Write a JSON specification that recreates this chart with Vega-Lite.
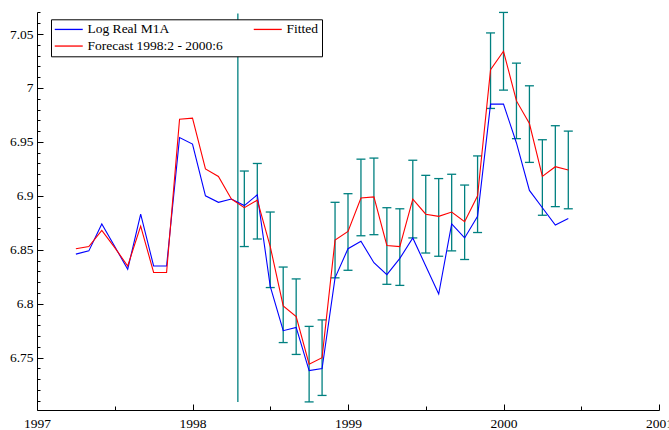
{
  "$schema": "https://vega.github.io/schema/vega-lite/v6.json",
  "autosize": {"type": "none"},
  "padding": {"left": 37, "top": 12, "right": 10, "bottom": 20},
  "width": 622,
  "height": 398,
  "background": "white",
  "config": {
    "view": {"stroke": null},
    "font": "Liberation Serif",
    "axis": {
      "grid": false,
      "domainColor": "black",
      "domainWidth": 1,
      "tickColor": "black",
      "tickWidth": 1,
      "labelColor": "black",
      "labelFont": "Liberation Serif",
      "labelFontSize": 13.5,
      "labelOverlap": false,
      "title": null
    },
    "legend": {
      "labelFont": "Liberation Serif",
      "labelFontSize": 13.5,
      "labelColor": "black"
    }
  },
  "resolve": {"axis": {"x": "independent", "y": "independent"}},
  "datasets": {
    "lines": [
      {"t": 1997.25, "series": "Log Real M1A", "v": 6.846},
      {"t": 1997.3333, "series": "Log Real M1A", "v": 6.849},
      {"t": 1997.4167, "series": "Log Real M1A", "v": 6.874},
      {"t": 1997.5, "series": "Log Real M1A", "v": 6.853},
      {"t": 1997.5833, "series": "Log Real M1A", "v": 6.832},
      {"t": 1997.6667, "series": "Log Real M1A", "v": 6.883},
      {"t": 1997.75, "series": "Log Real M1A", "v": 6.835},
      {"t": 1997.8333, "series": "Log Real M1A", "v": 6.835},
      {"t": 1997.9167, "series": "Log Real M1A", "v": 6.954},
      {"t": 1998.0, "series": "Log Real M1A", "v": 6.948},
      {"t": 1998.0833, "series": "Log Real M1A", "v": 6.900},
      {"t": 1998.1667, "series": "Log Real M1A", "v": 6.894},
      {"t": 1998.25, "series": "Log Real M1A", "v": 6.897},
      {"t": 1998.3333, "series": "Log Real M1A", "v": 6.891},
      {"t": 1998.4167, "series": "Log Real M1A", "v": 6.901},
      {"t": 1998.5, "series": "Log Real M1A", "v": 6.816},
      {"t": 1998.5833, "series": "Log Real M1A", "v": 6.775},
      {"t": 1998.6667, "series": "Log Real M1A", "v": 6.778},
      {"t": 1998.75, "series": "Log Real M1A", "v": 6.738},
      {"t": 1998.8333, "series": "Log Real M1A", "v": 6.740},
      {"t": 1998.9167, "series": "Log Real M1A", "v": 6.824},
      {"t": 1999.0, "series": "Log Real M1A", "v": 6.851},
      {"t": 1999.0833, "series": "Log Real M1A", "v": 6.858},
      {"t": 1999.1667, "series": "Log Real M1A", "v": 6.838},
      {"t": 1999.25, "series": "Log Real M1A", "v": 6.827},
      {"t": 1999.3333, "series": "Log Real M1A", "v": 6.842},
      {"t": 1999.4167, "series": "Log Real M1A", "v": 6.861},
      {"t": 1999.5, "series": "Log Real M1A", "v": 6.835},
      {"t": 1999.5833, "series": "Log Real M1A", "v": 6.809},
      {"t": 1999.6667, "series": "Log Real M1A", "v": 6.874},
      {"t": 1999.75, "series": "Log Real M1A", "v": 6.861},
      {"t": 1999.8333, "series": "Log Real M1A", "v": 6.881},
      {"t": 1999.9167, "series": "Log Real M1A", "v": 6.985},
      {"t": 2000.0, "series": "Log Real M1A", "v": 6.985},
      {"t": 2000.0833, "series": "Log Real M1A", "v": 6.949},
      {"t": 2000.1667, "series": "Log Real M1A", "v": 6.905},
      {"t": 2000.25, "series": "Log Real M1A", "v": 6.889},
      {"t": 2000.3333, "series": "Log Real M1A", "v": 6.873},
      {"t": 2000.4167, "series": "Log Real M1A", "v": 6.879},
      {"t": 1997.25, "series": "Fitted", "v": 6.851},
      {"t": 1997.3333, "series": "Fitted", "v": 6.853},
      {"t": 1997.4167, "series": "Fitted", "v": 6.868},
      {"t": 1997.5, "series": "Fitted", "v": 6.852},
      {"t": 1997.5833, "series": "Fitted", "v": 6.835},
      {"t": 1997.6667, "series": "Fitted", "v": 6.872},
      {"t": 1997.75, "series": "Fitted", "v": 6.829},
      {"t": 1997.8333, "series": "Fitted", "v": 6.829},
      {"t": 1997.9167, "series": "Fitted", "v": 6.971},
      {"t": 1998.0, "series": "Fitted", "v": 6.972},
      {"t": 1998.0833, "series": "Fitted", "v": 6.925},
      {"t": 1998.1667, "series": "Fitted", "v": 6.918},
      {"t": 1998.25, "series": "Fitted", "v": 6.897},
      {"t": 1998.25, "series": "Forecast 1998:2 - 2000:6", "v": 6.897},
      {"t": 1998.3333, "series": "Forecast 1998:2 - 2000:6", "v": 6.889},
      {"t": 1998.4167, "series": "Forecast 1998:2 - 2000:6", "v": 6.896},
      {"t": 1998.5, "series": "Forecast 1998:2 - 2000:6", "v": 6.853},
      {"t": 1998.5833, "series": "Forecast 1998:2 - 2000:6", "v": 6.798},
      {"t": 1998.6667, "series": "Forecast 1998:2 - 2000:6", "v": 6.788},
      {"t": 1998.75, "series": "Forecast 1998:2 - 2000:6", "v": 6.744},
      {"t": 1998.8333, "series": "Forecast 1998:2 - 2000:6", "v": 6.750},
      {"t": 1998.9167, "series": "Forecast 1998:2 - 2000:6", "v": 6.859},
      {"t": 1999.0, "series": "Forecast 1998:2 - 2000:6", "v": 6.867},
      {"t": 1999.0833, "series": "Forecast 1998:2 - 2000:6", "v": 6.898},
      {"t": 1999.1667, "series": "Forecast 1998:2 - 2000:6", "v": 6.899},
      {"t": 1999.25, "series": "Forecast 1998:2 - 2000:6", "v": 6.854},
      {"t": 1999.3333, "series": "Forecast 1998:2 - 2000:6", "v": 6.853},
      {"t": 1999.4167, "series": "Forecast 1998:2 - 2000:6", "v": 6.897},
      {"t": 1999.5, "series": "Forecast 1998:2 - 2000:6", "v": 6.883},
      {"t": 1999.5833, "series": "Forecast 1998:2 - 2000:6", "v": 6.881},
      {"t": 1999.6667, "series": "Forecast 1998:2 - 2000:6", "v": 6.885},
      {"t": 1999.75, "series": "Forecast 1998:2 - 2000:6", "v": 6.876},
      {"t": 1999.8333, "series": "Forecast 1998:2 - 2000:6", "v": 6.900},
      {"t": 1999.9167, "series": "Forecast 1998:2 - 2000:6", "v": 7.017},
      {"t": 2000.0, "series": "Forecast 1998:2 - 2000:6", "v": 7.034},
      {"t": 2000.0833, "series": "Forecast 1998:2 - 2000:6", "v": 6.988},
      {"t": 2000.1667, "series": "Forecast 1998:2 - 2000:6", "v": 6.967},
      {"t": 2000.25, "series": "Forecast 1998:2 - 2000:6", "v": 6.918},
      {"t": 2000.3333, "series": "Forecast 1998:2 - 2000:6", "v": 6.927},
      {"t": 2000.4167, "series": "Forecast 1998:2 - 2000:6", "v": 6.924}
    ],
    "bands": [
      {"t": 1998.3333, "lo": 6.853, "hi": 6.923},
      {"t": 1998.4167, "lo": 6.860, "hi": 6.930},
      {"t": 1998.5, "lo": 6.815, "hi": 6.885},
      {"t": 1998.5833, "lo": 6.764, "hi": 6.834},
      {"t": 1998.6667, "lo": 6.753, "hi": 6.823},
      {"t": 1998.75, "lo": 6.709, "hi": 6.779},
      {"t": 1998.8333, "lo": 6.715, "hi": 6.785},
      {"t": 1998.9167, "lo": 6.824, "hi": 6.894},
      {"t": 1999.0, "lo": 6.831, "hi": 6.902},
      {"t": 1999.0833, "lo": 6.863, "hi": 6.934},
      {"t": 1999.1667, "lo": 6.864, "hi": 6.935},
      {"t": 1999.25, "lo": 6.818, "hi": 6.889},
      {"t": 1999.3333, "lo": 6.817, "hi": 6.888},
      {"t": 1999.4167, "lo": 6.861, "hi": 6.933},
      {"t": 1999.5, "lo": 6.847, "hi": 6.919},
      {"t": 1999.5833, "lo": 6.844, "hi": 6.916},
      {"t": 1999.6667, "lo": 6.849, "hi": 6.920},
      {"t": 1999.75, "lo": 6.841, "hi": 6.910},
      {"t": 1999.8333, "lo": 6.866, "hi": 6.937},
      {"t": 1999.9167, "lo": 6.981, "hi": 7.051},
      {"t": 2000.0, "lo": 6.998, "hi": 7.070},
      {"t": 2000.0833, "lo": 6.953, "hi": 7.023},
      {"t": 2000.1667, "lo": 6.931, "hi": 7.002},
      {"t": 2000.25, "lo": 6.882, "hi": 6.952},
      {"t": 2000.3333, "lo": 6.890, "hi": 6.965},
      {"t": 2000.4167, "lo": 6.888, "hi": 6.960}
    ],
    "vline": [
      {"t": 1998.2917, "lo": 6.709, "hi": 7.069}
    ]
  },
  "layer": [
    {
      "data": {"name": "vline"},
      "mark": {"type": "rule", "color": "#008080", "strokeWidth": 1.3},
      "encoding": {
        "x": {
          "field": "t", "type": "quantitative",
          "scale": {"domain": [1997, 2001], "nice": false, "zero": false},
          "axis": {
            "orient": "bottom",
            "values": [1997, 1998, 1999, 2000, 2001],
            "format": "d",
            "tickSize": -6,
            "labelPadding": 12,
            "labelFlush": false
          }
        },
        "y": {
          "field": "lo", "type": "quantitative",
          "scale": {"domain": [6.7015, 7.0704], "nice": false, "zero": false},
          "axis": {
            "orient": "left",
            "values": [6.75, 6.8, 6.85, 6.9, 6.95, 7.0, 7.05],
            "format": ".2~f",
            "tickSize": -6,
            "labelPadding": 10,
            "labelFlush": false
          }
        },
        "y2": {"field": "hi"}
      }
    },
    {
      "data": {"name": "bands"},
      "mark": {"type": "rule", "color": "#008080", "strokeWidth": 1.3},
      "encoding": {
        "x": {
          "field": "t", "type": "quantitative",
          "axis": {
            "orient": "bottom",
            "values": [1997.5, 1998.5, 1999.5, 2000.5],
            "labels": false,
            "domain": false,
            "tickSize": -4
          }
        },
        "y": {
          "field": "lo", "type": "quantitative",
          "axis": {
            "orient": "left",
            "values": [6.71, 6.72, 6.73, 6.74, 6.76, 6.77, 6.78, 6.79, 6.81, 6.82, 6.83, 6.84, 6.86, 6.87, 6.88, 6.89, 6.91, 6.92, 6.93, 6.94, 6.96, 6.97, 6.98, 6.99, 7.01, 7.02, 7.03, 7.04, 7.06, 7.07],
            "labels": false,
            "domain": false,
            "tickSize": -3
          }
        },
        "y2": {"field": "hi"}
      }
    },
    {
      "data": {"name": "bands"},
      "mark": {"type": "tick", "color": "#008080", "orient": "horizontal", "size": 9, "thickness": 1.3, "opacity": 1},
      "encoding": {
        "x": {"field": "t", "type": "quantitative", "axis": null},
        "y": {"field": "lo", "type": "quantitative", "axis": null}
      }
    },
    {
      "data": {"name": "bands"},
      "mark": {"type": "tick", "color": "#008080", "orient": "horizontal", "size": 9, "thickness": 1.3, "opacity": 1},
      "encoding": {
        "x": {"field": "t", "type": "quantitative", "axis": null},
        "y": {"field": "hi", "type": "quantitative", "axis": null}
      }
    },
    {
      "data": {"name": "lines"},
      "mark": {"type": "line", "strokeWidth": 1.1},
      "encoding": {
        "x": {"field": "t", "type": "quantitative", "axis": null},
        "y": {"field": "v", "type": "quantitative", "axis": null},
        "color": {
          "field": "series", "type": "nominal",
          "scale": {"domain": ["Log Real M1A", "Fitted", "Forecast 1998:2 - 2000:6"], "range": ["#0000ff", "#ff0000", "#ff0000"]},
          "legend": {
            "title": null,
            "orient": "none",
            "legendX": 14,
            "legendY": 7.3,
            "columns": 2,
            "direction": "horizontal",
            "symbolType": "M-2.8,0H2.8",
            "symbolSize": 100,
            "symbolStrokeWidth": 1.3,
            "symbolOffset": 8,
            "labelOffset": 12,
            "labelExpr": "datum.label === 'Fitted' ? 'Fitted\u00a0\u00a0\u00a0\u00a0\u00a0\u00a0\u00a0\u00a0' : datum.label",
            "columnPadding": 28,
            "rowPadding": 2,
            "padding": 3,
            "strokeColor": "black",
            "fillColor": "white",
            "cornerRadius": 0
          }
        }
      }
    }
  ]
}
